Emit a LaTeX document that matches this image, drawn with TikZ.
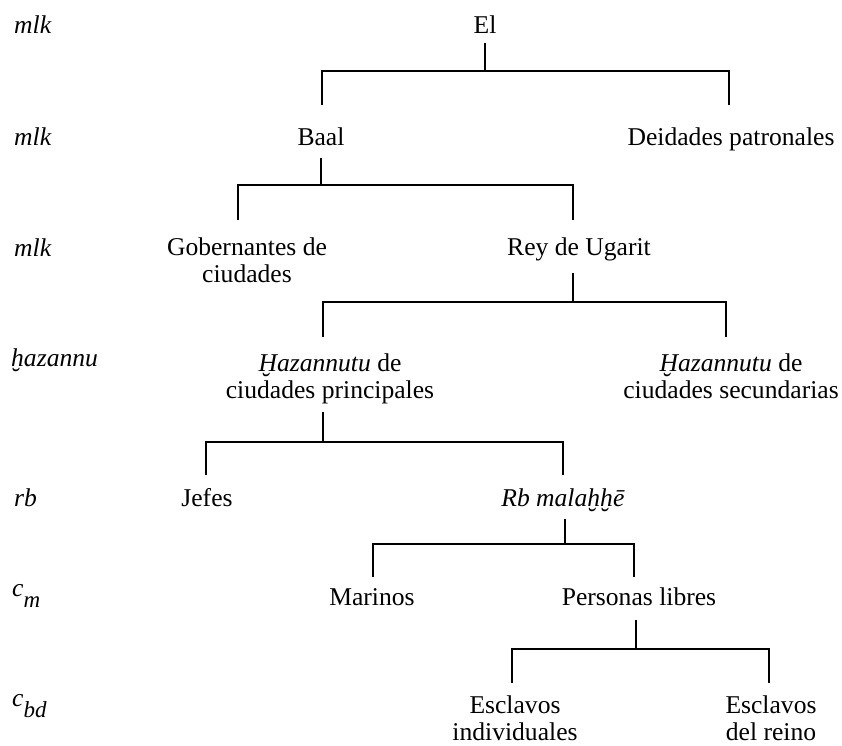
\documentclass[tikz,border=0pt]{standalone}
\usepackage{fontspec}
\setmainfont{Liberation Serif}
\newcommand\twoline[2]{\vtop{\halign{\hfil##\hfil\cr#1\cr#2\cr}}}
\newcommand\lvsub[2]{\textit{#1}\raisebox{-0.46em}{\fontsize{23}{23}\selectfont\textit{#2}}}
\begin{document}
\begin{tikzpicture}[x=1pt,y=-1pt]
\tikzset{
  lbl/.style={anchor=base, inner sep=0pt, font=\fontsize{25.6}{27}\selectfont},
  side/.style={anchor=base west, inner sep=0pt, font=\fontsize{25.6}{27}\selectfont\itshape},
  conn/.style={line width=2pt, line join=miter}
}
\useasboundingbox (0,0) rectangle (842,745);
% level labels
\node[side] (s0) at (14,33) {mlk};
\node[side] (s1) at (14,145) {mlk};
\node[side] (s2) at (14,256) {mlk};
\node[side] (s3) at (11,366) {ḫazannu};
\node[side] (s4) at (14,506) {rb};
\node[side, font=\fontsize{25.6}{27}\selectfont] (s5) at (12,596) {\lvsub{c}{m}};
\node[side, font=\fontsize{25.6}{27}\selectfont] (s6) at (12,706) {\lvsub{c}{bd}};
% nodes
\node[lbl] (el) at (485,33) {El};
\node[lbl] (baal) at (321,145) {Baal};
\node[lbl] (deid) at (731,145) {Deidades patronales};
\node[lbl] (gob) at (247,255) {\twoline{Gobernantes de}{ciudades}};
\node[lbl] (rey) at (579,255) {Rey de Ugarit};
\node[lbl] (hazp) at (330,371) {\twoline{\textit{Ḫazannutu} de}{ciudades principales}};
\node[lbl] (hazs) at (731,371) {\twoline{\textit{Ḫazannutu} de}{ciudades secundarias}};
\node[lbl] (jef) at (207,506) {Jefes};
\node[lbl] (rbm) at (563,506) {\textit{Rb malaḫḫē}};
\node[lbl] (mar) at (372,605) {Marinos};
\node[lbl] (per) at (639,605) {Personas libres};
\node[lbl] (esi) at (515,713) {\twoline{Esclavos}{individuales}};
\node[lbl] (esr) at (771,713) {\twoline{Esclavos}{del reino}};
% bracket coordinates
\coordinate (el-t) at (485,43);  \coordinate (el-j) at (485,71);
\coordinate (baal-b) at (322,105); \coordinate (deid-b) at (729,105);
\coordinate (baal-t) at (321,158); \coordinate (baal-j) at (321,185);
\coordinate (gob-b) at (238,220); \coordinate (rey-b) at (573,220);
\coordinate (rey-t) at (573,273); \coordinate (rey-j) at (573,302);
\coordinate (hazp-b) at (323,337); \coordinate (hazs-b) at (726,337);
\coordinate (hazp-t) at (323,412); \coordinate (hazp-j) at (323,442);
\coordinate (jef-b) at (206,475); \coordinate (rbm-b) at (563,475);
\coordinate (rbm-t) at (565,519); \coordinate (rbm-j) at (565,544);
\coordinate (mar-b) at (373,577); \coordinate (per-b) at (634,577);
\coordinate (per-t) at (636,620); \coordinate (per-j) at (636,649);
\coordinate (esi-b) at (512,683); \coordinate (esr-b) at (769,683);
% connectors
\draw[conn] (el-t) -- (el-j);
\draw[conn] (baal-b) -- (baal-b |- el-j) -- (deid-b |- el-j) -- (deid-b);
\draw[conn] (baal-t) -- (baal-j);
\draw[conn] (gob-b) -- (gob-b |- baal-j) -- (rey-b |- baal-j) -- (rey-b);
\draw[conn] (rey-t) -- (rey-j);
\draw[conn] (hazp-b) -- (hazp-b |- rey-j) -- (hazs-b |- rey-j) -- (hazs-b);
\draw[conn] (hazp-t) -- (hazp-j);
\draw[conn] (jef-b) -- (jef-b |- hazp-j) -- (rbm-b |- hazp-j) -- (rbm-b);
\draw[conn] (rbm-t) -- (rbm-j);
\draw[conn] (mar-b) -- (mar-b |- rbm-j) -- (per-b |- rbm-j) -- (per-b);
\draw[conn] (per-t) -- (per-j);
\draw[conn] (esi-b) -- (esi-b |- per-j) -- (esr-b |- per-j) -- (esr-b);
\end{tikzpicture}
\end{document}
